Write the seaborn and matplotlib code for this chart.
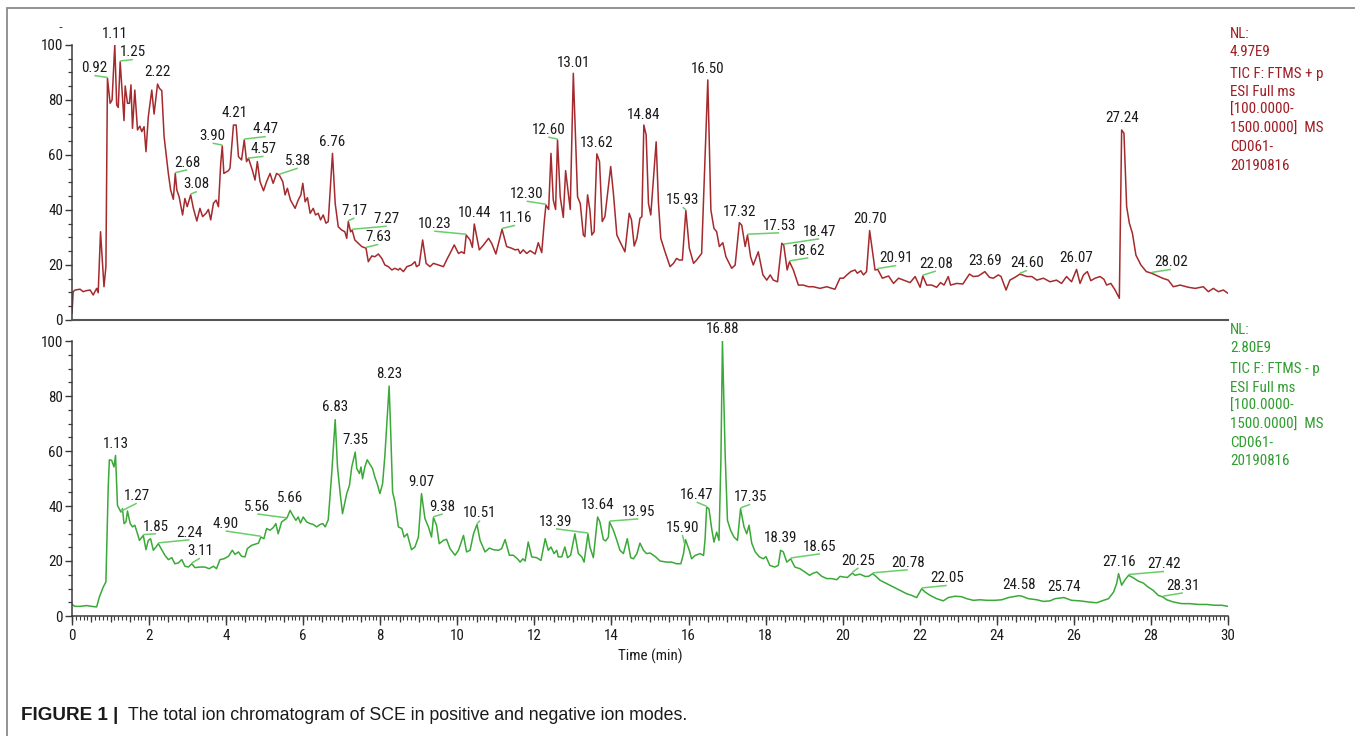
import numpy as np
import pandas as pd
import matplotlib
matplotlib.use("Agg")
import matplotlib.pyplot as plt
from matplotlib import font_manager
from matplotlib.font_manager import FontProperties
from matplotlib.patches import Rectangle
import seaborn as sns

# ---------------- data ----------------
pos_time = [0.00, 0.03, 0.08, 0.21, 0.29, 0.38, 0.47, 0.55, 0.64, 0.68, 0.74, 0.83, 0.88, 0.92, 0.99, 1.04,
            1.11, 1.16, 1.20, 1.25, 1.35, 1.38, 1.44, 1.49, 1.53, 1.57, 1.63, 1.70, 1.76, 1.81, 1.87, 1.92,
            1.98, 2.07, 2.13, 2.22, 2.27, 2.33, 2.39, 2.44, 2.50, 2.56, 2.63, 2.68, 2.72, 2.78, 2.87, 2.93,
            2.99, 3.08, 3.15, 3.24, 3.32, 3.39, 3.48, 3.54, 3.60, 3.67, 3.74, 3.80, 3.86, 3.90, 3.94, 4.06,
            4.10, 4.19, 4.26, 4.32, 4.40, 4.47, 4.53, 4.58, 4.68, 4.75, 4.81, 4.88, 4.97, 5.05, 5.14, 5.22,
            5.31, 5.38, 5.47, 5.53, 5.59, 5.67, 5.79, 5.87, 5.94, 5.99, 6.05, 6.11, 6.18, 6.26, 6.32, 6.39,
            6.45, 6.52, 6.59, 6.65, 6.76, 6.83, 6.91, 7.00, 7.08, 7.13, 7.17, 7.23, 7.27, 7.34, 7.43, 7.52,
            7.63, 7.69, 7.78, 7.86, 7.95, 8.04, 8.12, 8.21, 8.30, 8.38, 8.47, 8.51, 8.60, 8.69, 8.81, 8.90,
            8.94, 9.01, 9.10, 9.19, 9.29, 9.38, 9.51, 9.64, 9.72, 9.81, 9.92, 10.03, 10.11, 10.18, 10.23,
            10.33, 10.39, 10.44, 10.57, 10.68, 10.81, 10.89, 11.00, 11.16, 11.28, 11.41, 11.50, 11.58,
            11.63, 11.71, 11.80, 11.89, 12.02, 12.10, 12.19, 12.26, 12.30, 12.37, 12.43, 12.49, 12.55,
            12.60, 12.67, 12.75, 12.81, 12.86, 12.93, 13.01, 13.12, 13.19, 13.27, 13.31, 13.38, 13.44,
            13.49, 13.55, 13.62, 13.69, 13.76, 13.83, 13.98, 14.05, 14.14, 14.22, 14.35, 14.46, 14.52,
            14.59, 14.66, 14.74, 14.79, 14.84, 14.90, 14.96, 15.02, 15.16, 15.22, 15.28, 15.39, 15.52,
            15.61, 15.69, 15.76, 15.84, 15.93, 16.02, 16.13, 16.21, 16.34, 16.50, 16.58, 16.66, 16.73,
            16.80, 16.89, 16.97, 17.12, 17.21, 17.32, 17.38, 17.47, 17.53, 17.61, 17.68, 17.81, 17.93,
            18.03, 18.12, 18.20, 18.31, 18.42, 18.47, 18.56, 18.62, 18.72, 18.85, 18.98, 19.11, 19.24,
            19.41, 19.59, 19.72, 19.80, 19.93, 20.02, 20.11, 20.21, 20.32, 20.38, 20.47, 20.54, 20.62,
            20.70, 20.84, 20.91, 21.03, 21.19, 21.32, 21.45, 21.58, 21.75, 21.88, 22.01, 22.08, 22.18,
            22.31, 22.44, 22.54, 22.63, 22.74, 22.80, 22.96, 23.12, 23.20, 23.29, 23.39, 23.52, 23.69,
            23.81, 23.91, 24.04, 24.11, 24.24, 24.34, 24.47, 24.60, 24.78, 24.91, 25.04, 25.21, 25.38,
            25.55, 25.68, 25.81, 25.94, 26.07, 26.16, 26.25, 26.35, 26.44, 26.55, 26.68, 26.78, 26.85,
            26.96, 27.07, 27.18, 27.24, 27.30, 27.37, 27.44, 27.52, 27.61, 27.74, 27.88, 28.02, 28.30,
            28.45, 28.58, 28.76, 28.97, 29.15, 29.36, 29.49, 29.62, 29.75, 29.88, 30.00]
pos_intensity = [2.4, 10.3, 10.9, 11.2, 10.3, 10.7, 10.9, 9.1, 11.5, 9.9, 32.1, 12.1, 19.4, 87.9, 78.8, 80.0,
                 100.0, 78.2, 77.3, 93.9, 72.5, 85.1, 78.8, 78.8, 85.5, 69.7, 83.6, 69.1, 70.5, 68.5, 70.3, 61.2,
                 73.9, 83.6, 74.9, 85.8, 84.2, 83.4, 66.7, 60.6, 53.3, 47.3, 43.9, 53.3, 47.3, 44.8, 38.2, 44.2,
                 41.2, 45.5, 40.6, 36.0, 40.6, 37.6, 38.8, 40.2, 36.4, 42.4, 43.6, 41.2, 57.0, 63.3, 53.3, 54.3,
                 55.2, 70.9, 70.9, 59.4, 58.2, 65.5, 57.6, 58.8, 54.5, 50.9, 57.6, 50.3, 47.0, 50.3, 53.3, 49.7,
                 53.3, 52.7, 50.3, 45.5, 47.9, 43.6, 40.6, 43.6, 45.5, 49.7, 43.0, 44.5, 38.8, 40.6, 38.2, 38.8,
                 36.4, 38.2, 35.2, 35.8, 60.6, 42.4, 33.9, 32.7, 32.1, 29.7, 35.8, 32.1, 32.7, 29.1, 27.9, 26.7,
                 26.1, 21.2, 23.3, 23.0, 24.0, 22.4, 20.0, 19.4, 18.2, 18.8, 18.2, 18.8, 17.6, 19.4, 20.0, 21.2,
                 19.4, 20.0, 29.1, 20.6, 19.4, 20.6, 20.0, 19.4, 21.8, 24.2, 27.3, 24.2, 24.8, 24.2, 30.9,
                 29.1, 26.4, 34.9, 25.5, 27.3, 29.7, 27.9, 24.0, 33.0, 26.7, 26.1, 25.5, 25.7,
                 24.2, 25.5, 24.2, 25.2, 24.0, 28.1, 24.5, 36.4, 41.8, 40.2, 60.6, 43.6, 40.2,
                 65.5, 44.8, 37.3, 54.3, 48.5, 40.2, 89.7, 44.8, 42.4, 30.9, 30.3, 45.5, 40.0,
                 30.9, 32.1, 60.4, 57.6, 35.8, 37.6, 55.8, 46.1, 30.9, 28.5, 24.8, 38.8, 36.4,
                 26.9, 29.7, 37.0, 37.6, 70.9, 67.3, 42.4, 38.2, 64.8, 42.4, 29.7, 24.8, 19.4,
                 20.6, 22.4, 21.8, 21.8, 39.8, 26.1, 20.6, 21.8, 24.2, 87.3, 40.0, 33.3, 32.1,
                 26.7, 28.1, 23.0, 18.8, 20.0, 35.4, 34.5, 26.7, 30.9, 23.0, 20.0, 24.8, 16.4,
                 14.5, 16.4, 14.5, 13.9, 27.9, 27.3, 18.2, 21.2, 18.2, 12.7, 12.7, 12.1, 12.1,
                 11.5, 12.1, 11.5, 11.2, 15.2, 15.2, 16.4, 17.6, 18.2, 17.0, 17.9, 16.4, 17.6,
                 32.5, 18.2, 18.4, 15.2, 16.0, 13.3, 15.2, 14.5, 13.6, 15.8, 11.9, 16.0, 12.7,
                 12.7, 11.9, 13.6, 12.7, 15.8, 12.7, 13.3, 13.1, 14.8, 16.7, 15.8, 16.0, 17.6,
                 15.5, 15.2, 16.4, 15.8, 10.9, 14.5, 15.5, 16.7, 15.8, 15.8, 14.5, 15.2, 13.9,
                 14.5, 13.3, 15.8, 13.9, 18.4, 13.3, 16.4, 17.6, 14.3, 15.2, 15.8, 14.8, 12.7,
                 13.3, 10.9, 7.9, 69.1, 67.9, 41.2, 35.2, 31.5, 23.6, 20.0, 17.6, 17.0, 15.2,
                 14.5, 12.1, 12.7, 11.9, 11.5, 12.1, 10.3, 11.5, 10.3, 10.9, 9.7]

neg_time = [0.00, 0.08, 0.21, 0.38, 0.51, 0.64, 0.71, 0.81, 0.88, 0.94, 0.97, 1.03, 1.09, 1.13, 1.18, 1.27,
            1.31, 1.35, 1.40, 1.44, 1.51, 1.57, 1.63, 1.70, 1.75, 1.85, 1.92, 1.98, 2.04, 2.11, 2.18, 2.24,
            2.33, 2.41, 2.50, 2.59, 2.67, 2.76, 2.85, 2.93, 3.02, 3.11, 3.19, 3.32, 3.45, 3.56, 3.67, 3.75,
            3.84, 3.94, 4.06, 4.16, 4.23, 4.32, 4.40, 4.49, 4.55, 4.66, 4.75, 4.84, 4.90, 4.98, 5.05, 5.14,
            5.22, 5.29, 5.35, 5.44, 5.56, 5.59, 5.66, 5.73, 5.81, 5.87, 5.93, 6.00, 6.09, 6.18, 6.26, 6.35,
            6.44, 6.51, 6.57, 6.65, 6.74, 6.83, 6.89, 6.96, 7.02, 7.13, 7.20, 7.26, 7.35, 7.39, 7.46, 7.50,
            7.54, 7.60, 7.66, 7.73, 7.80, 7.86, 7.92, 7.99, 8.06, 8.12, 8.23, 8.27, 8.32, 8.38, 8.47, 8.56,
            8.62, 8.70, 8.81, 8.90, 8.99, 9.07, 9.16, 9.25, 9.33, 9.38, 9.46, 9.53, 9.64, 9.72, 9.81, 9.94,
            10.03, 10.16, 10.24, 10.33, 10.42, 10.51, 10.59, 10.72, 10.83, 10.94, 11.07, 11.15, 11.24,
            11.35, 11.45, 11.56, 11.63, 11.70, 11.76, 11.84, 11.93, 12.06, 12.17, 12.28, 12.36, 12.43,
            12.51, 12.58, 12.62, 12.71, 12.79, 12.86, 12.94, 13.05, 13.14, 13.23, 13.29, 13.39, 13.44,
            13.53, 13.64, 13.70, 13.79, 13.85, 13.92, 13.95, 14.05, 14.14, 14.22, 14.31, 14.41, 14.50,
            14.57, 14.66, 14.74, 14.83, 14.91, 15.00, 15.13, 15.26, 15.43, 15.56, 15.69, 15.80, 15.87,
            15.92, 16.02, 16.08, 16.17, 16.30, 16.39, 16.43, 16.47, 16.53, 16.60, 16.66, 16.73, 16.79,
            16.84, 16.88, 16.95, 17.01, 17.09, 17.18, 17.27, 17.35, 17.44, 17.51, 17.57, 17.64, 17.73,
            17.84, 17.94, 18.01, 18.11, 18.24, 18.33, 18.39, 18.46, 18.55, 18.65, 18.76, 18.89, 19.02,
            19.14, 19.24, 19.33, 19.46, 19.59, 19.72, 19.85, 19.93, 20.02, 20.12, 20.25, 20.32, 20.45,
            20.58, 20.67, 20.78, 20.88, 20.97, 21.14, 21.32, 21.49, 21.66, 21.79, 21.92, 22.05, 22.14,
            22.27, 22.44, 22.61, 22.74, 22.92, 23.09, 23.22, 23.39, 23.57, 23.74, 23.95, 24.13, 24.30,
            24.58, 24.65, 24.82, 25.04, 25.21, 25.38, 25.51, 25.74, 25.94, 26.16, 26.38, 26.59, 26.77,
            26.90, 27.03, 27.11, 27.16, 27.24, 27.33, 27.42, 27.54, 27.67, 27.80, 27.93, 28.06, 28.19,
            28.31, 28.41, 28.58, 28.80, 29.01, 29.23, 29.45, 29.66, 29.84, 30.00]
neg_intensity = [4.2, 3.5, 3.5, 3.8, 3.5, 3.3, 6.9, 10.5, 12.4, 46.9, 56.8, 56.6, 54.2, 58.4, 40.2, 37.8,
                 39.0, 33.6, 34.2, 38.2, 33.6, 32.4, 33.0, 29.9, 27.5, 29.3, 24.1, 27.5, 28.1, 23.9, 25.1, 26.3,
                 24.1, 22.1, 20.5, 21.2, 19.0, 19.3, 20.5, 18.1, 17.8, 19.0, 17.6, 17.8, 17.8, 17.2, 18.1, 17.2,
                 20.5, 20.8, 21.7, 23.9, 22.4, 23.3, 21.7, 21.5, 24.5, 25.7, 26.1, 26.5, 28.7, 28.1, 31.8, 31.2,
                 32.1, 33.6, 29.9, 34.2, 35.4, 36.0, 38.4, 36.6, 34.8, 36.0, 33.8, 36.0, 34.2, 33.6, 33.3, 32.4,
                 33.3, 33.6, 32.4, 35.0, 51.8, 71.4, 54.2, 44.5, 37.2, 44.5, 47.5, 54.2, 59.6, 53.6, 51.8, 54.2,
                 49.9, 54.2, 56.8, 55.2, 53.6, 50.5, 48.1, 44.5, 48.1, 58.4, 83.6, 67.5, 45.1, 41.5, 32.4, 31.8,
                 28.7, 29.9, 24.1, 25.1, 28.7, 44.5, 35.4, 32.4, 28.7, 35.8, 33.0, 26.3, 27.5, 27.9, 24.5, 22.1,
                 23.9, 29.3, 23.3, 23.9, 29.9, 33.3, 27.5, 23.3, 24.7, 24.1, 23.9, 24.5, 27.8,
                 22.1, 22.1, 20.8, 19.6, 20.8, 20.0, 26.9, 21.5, 21.2, 20.2, 28.1, 23.9, 25.1,
                 22.7, 23.9, 21.5, 21.5, 25.1, 21.2, 22.1, 29.9, 22.7, 21.5, 19.6, 29.9, 25.1,
                 21.2, 36.0, 34.2, 27.8, 27.3, 28.7, 34.2, 31.2, 27.5, 23.9, 22.7, 28.1, 21.2,
                 20.8, 22.7, 26.5, 23.9, 22.7, 22.9, 21.7, 20.0, 19.6, 19.6, 19.0, 19.0, 22.7,
                 27.8, 23.9, 20.8, 22.0, 22.7, 22.0, 28.1, 39.6, 39.0, 31.8, 26.9, 30.5, 27.5,
                 56.6, 100.0, 59.0, 34.8, 31.2, 28.7, 27.5, 39.0, 32.4, 29.9, 33.0, 26.5, 23.3,
                 21.5, 20.8, 21.6, 18.4, 17.8, 18.4, 23.9, 23.3, 19.6, 20.8, 17.8, 17.2, 16.0,
                 14.8, 15.6, 16.0, 14.4, 13.6, 13.6, 13.2, 14.4, 14.2, 14.0, 15.6, 14.8, 15.2,
                 14.4, 14.4, 15.4, 14.2, 13.0, 11.8, 10.5, 9.3, 8.1, 7.5, 6.7, 9.9, 8.7,
                 7.5, 6.3, 5.5, 6.7, 7.2, 7.0, 6.3, 5.7, 5.9, 5.7, 5.7, 5.9, 6.7,
                 7.4, 7.2, 6.3, 5.9, 5.3, 5.5, 6.3, 6.7, 5.7, 5.5, 5.1, 4.8, 5.7,
                 6.3, 8.7, 11.8, 15.4, 11.2, 13.2, 14.8, 13.9, 12.7, 12.0, 10.5, 9.3, 7.5,
                 6.9, 5.9, 5.1, 4.5, 4.5, 4.2, 4.2, 3.9, 3.9, 3.5]

# peak labels (retention time strings) and where their text sits (time, relative abundance)
pos_labels = ["0.92", "1.11", "1.25", "2.22", "2.68", "3.08", "3.90", "4.21", "4.47", "4.57", "5.38",
              "6.76", "7.17", "7.27", "7.63", "10.23", "10.44", "11.16", "12.30", "12.60", "13.01",
              "13.62", "14.84", "15.93", "16.50", "17.32", "17.53", "18.47", "18.62", "20.70", "20.91",
              "22.08", "23.69", "24.60", "26.07", "27.24", "28.02"]
pos_label_x = [0.58, 1.11, 1.58, 2.22, 2.99, 3.24, 3.65, 4.21, 5.03, 4.97, 5.86,
               6.76, 7.33, 8.17, 7.95, 9.40, 10.44, 11.50, 11.80, 12.36, 13.01,
               13.62, 14.84, 15.85, 16.50, 17.32, 18.35, 19.39, 19.11, 20.70, 21.39,
               22.42, 23.69, 24.78, 26.07, 27.24, 28.52]
pos_label_y = [91.5, 103.9, 97.3, 90.1, 57.2, 49.3, 66.9, 75.2, 69.3, 62.1, 57.8,
               64.6, 39.7, 36.7, 30.1, 34.9, 38.8, 37.0, 45.8, 69.1, 93.6,
               64.2, 74.5, 43.6, 91.3, 39.4, 34.3, 32.1, 25.2, 36.7, 22.4,
               20.4, 21.6, 20.6, 22.7, 73.6, 21.0]

neg_labels = ["1.13", "1.27", "1.85", "2.24", "3.11", "4.90", "5.56", "5.66", "6.83", "7.35", "8.23",
              "9.07", "9.38", "10.51", "13.39", "13.64", "13.95", "15.90", "16.47", "16.88", "17.35",
              "18.39", "18.65", "20.25", "20.78", "22.05", "24.58", "25.74", "27.16", "27.42", "28.31"]
neg_label_x = [1.13, 1.68, 2.18, 3.05, 3.32, 3.99, 4.81, 5.66, 6.83, 7.35, 8.23,
               9.07, 9.62, 10.59, 12.56, 13.64, 14.70, 15.84, 16.21, 16.88, 17.60,
               18.39, 19.41, 20.41, 21.69, 22.70, 24.58, 25.74, 27.16, 28.34, 28.83]
neg_label_y = [62.5, 43.6, 32.5, 30.3, 23.6, 33.5, 39.7, 42.8, 75.9, 64.0, 88.0,
               48.8, 39.7, 37.3, 34.3, 40.4, 37.9, 32.1, 44.0, 104.2, 43.2,
               28.2, 25.2, 20.1, 19.4, 13.7, 11.3, 10.4, 19.8, 18.8, 11.0]

pos_info = ["NL:", "4.97E9", "TIC F: FTMS + p", "ESI Full ms", "[100.0000-", "1500.0000]  MS",
            "CD061-", "20190816"]
neg_info = ["NL:", "2.80E9", "TIC F: FTMS - p", "ESI Full ms", "[100.0000-", "1500.0000]  MS",
            "CD061-", "20190816"]
x_ticks = list(range(0, 31, 2))
y_ticks = [0, 20, 40, 60, 80, 100]
caption_bold = "FIGURE 1 |"
caption_text = "The total ion chromatogram of SCE in positive and negative ion modes."
x_label = "Time (min)"

# ---------------- style ----------------
sns.set_theme(style="ticks")
plt.rcParams["font.family"] = ["Liberation Sans", "DejaVu Sans"]

# look for an installed narrow / condensed sans face (the reference uses a narrow face)
prefer = ["Liberation Sans Narrow", "Arial Narrow", "Nimbus Sans Narrow", "Roboto Condensed",
          "DejaVu Sans Condensed", "Open Sans Condensed", "Noto Sans Condensed"]
narrow_path = None
cands = []
for f in font_manager.fontManager.ttflist:
    nm = f.name
    fn = f.fname.lower()
    is_narrow = ("narrow" in nm.lower() or "condensed" in nm.lower() or "narrow" in fn
                 or "condensed" in fn or str(f.stretch) in ("condensed", "semi-condensed"))
    if is_narrow and f.style == "normal" and f.weight in (400, "normal", "regular", "book") \
            and "bold" not in fn and "oblique" not in fn and "italic" not in fn \
            and "light" not in fn and "semi" not in fn and "extra" not in fn:
        cands.append(f)
for p in prefer:
    for f in cands:
        base = f.fname.lower()
        if p.lower().replace(" ", "") in base.replace(" ", "").replace("-", "").replace("_", "") \
                or p.lower() == f.name.lower():
            narrow_path = f.fname
            break
    if narrow_path:
        break
if narrow_path is None and cands:
    narrow_path = cands[0].fname

if narrow_path:
    FS = 10.8
    FP = FontProperties(fname=narrow_path, size=FS)
else:
    FS = 9.7
    FP = FontProperties(family=["Liberation Sans", "DejaVu Sans"], size=FS)

W, H = 1355, 736
fig = plt.figure(figsize=(W / 100, H / 100), dpi=100)

RED_LINE = "#a52a2d"
RED_TEXT = "#9e1c22"
GREEN_LINE = "#3aa938"
GREEN_TEXT = "#2f9d2f"
LEADER = "#6acd6a"
AX = "#3a3a3a"
TXT = "#1a1a1a"


def fx(px):
    return px / W


def fy(py):
    return 1 - py / H


ax_top = fig.add_axes([fx(72), fy(320), 1156 / W, 275 / H])
ax_bot = fig.add_axes([fx(72), fy(616), 1156 / W, 275 / H])

df_pos = pd.DataFrame({"time": pos_time, "rel": pos_intensity})
df_neg = pd.DataFrame({"time": neg_time, "rel": neg_intensity})
sns.lineplot(data=df_pos, x="time", y="rel", ax=ax_top, color=RED_LINE, lw=1.1,
             estimator=None, sort=False)
sns.lineplot(data=df_neg, x="time", y="rel", ax=ax_bot, color=GREEN_LINE, lw=1.1,
             estimator=None, sort=False)

for ax in (ax_top, ax_bot):
    ax.set_xlim(0, 30)
    ax.set_ylim(0, 100)
    ax.set_xlabel("")
    ax.set_ylabel("")
    for s in ("top", "right"):
        ax.spines[s].set_visible(False)
    for s in ("left", "bottom"):
        ax.spines[s].set_color(AX)
        ax.spines[s].set_linewidth(1.1)
    ax.set_yticks(y_ticks)
    ax.set_yticks(np.arange(0, 101, 5), minor=True)
    ax.tick_params(axis="y", which="major", length=5, width=1.0, color=AX, pad=1.5,
                   labelcolor=TXT)
    ax.tick_params(axis="y", which="minor", length=3, width=0.9, color=AX)
    for lab in ax.get_yticklabels():
        lab.set_fontproperties(FP)
    ax.patch.set_alpha(0)

ax_top.spines["bottom"].set_color("#555555")
ax_top.spines["bottom"].set_linewidth(1.5)
ax_top.set_xticks([])
ax_top.set_xticks([], minor=True)

ax_bot.set_xticks(x_ticks)
ax_bot.set_xticks(np.arange(0, 30.001, 0.1), minor=True)
ax_bot.tick_params(axis="x", which="major", length=6.5, width=1.0, color=AX, pad=3,
                   labelcolor=TXT)
ax_bot.tick_params(axis="x", which="minor", length=2.6, width=0.8, color=AX)
for lab in ax_bot.get_xticklabels():
    lab.set_fontproperties(FP)
sec = ax_bot.secondary_xaxis("bottom")
sec.set_xticks(np.arange(0, 30.001, 0.5))
sec.tick_params(axis="x", length=4.6, width=0.9, color=AX, labelbottom=False)
sec.spines["bottom"].set_visible(False)
ax_bot.text(0.5, -0.145, x_label, transform=ax_bot.transAxes, ha="center", va="center",
            fontproperties=FP, color=TXT)


def annotate(ax, labels, lx, ly, t, v):
    for lab, x, y in zip(labels, lx, ly):
        rt = float(lab)
        ax.text(x, y, lab, ha="center", va="center", fontproperties=FP, color=TXT, clip_on=False)
        if abs(x - rt) > 0.05:
            y0 = float(np.interp(rt, t, v)) + 0.3
            ax.plot([rt, x], [y0, y - 2.6], color=LEADER, lw=1.1, clip_on=False,
                    solid_capstyle="butt")


annotate(ax_top, pos_labels, pos_label_x, pos_label_y, pos_time, pos_intensity)
annotate(ax_bot, neg_labels, neg_label_x, neg_label_y, neg_time, neg_intensity)

# side info text
pos_info_y = [34, 52, 74, 92, 110, 129, 147, 166]
neg_info_y = [330, 348, 369, 388, 406, 425, 443, 461]
for s, py in zip(pos_info, pos_info_y):
    fig.text(fx(1230), fy(py), s, ha="left", va="center", fontproperties=FP, color=RED_TEXT)
for s, py in zip(neg_info, neg_info_y):
    fig.text(fx(1230), fy(py), s, ha="left", va="center", fontproperties=FP, color=GREEN_TEXT)

# small dash above the top axis
fig.text(fx(60), fy(28), "-", ha="center", va="center", fontsize=FS * 0.8, color=TXT)

# outer frame
fig.patches.append(Rectangle((fx(7.5), fy(800)), fx(1400), fy(8) - fy(800), transform=fig.transFigure,
                             fill=False, edgecolor="#8a8a8a", lw=1.3))

# caption
fig.text(fx(21), fy(715), caption_bold, ha="left", va="center", fontsize=13.6,
         fontweight="bold", family=["Liberation Sans", "DejaVu Sans"], color=TXT)
fig.text(fx(127.5), fy(715), caption_text, ha="left", va="center", fontsize=12.8,
         family=["Liberation Sans", "DejaVu Sans"], color=TXT)

fig.savefig("out.png", dpi=100)
